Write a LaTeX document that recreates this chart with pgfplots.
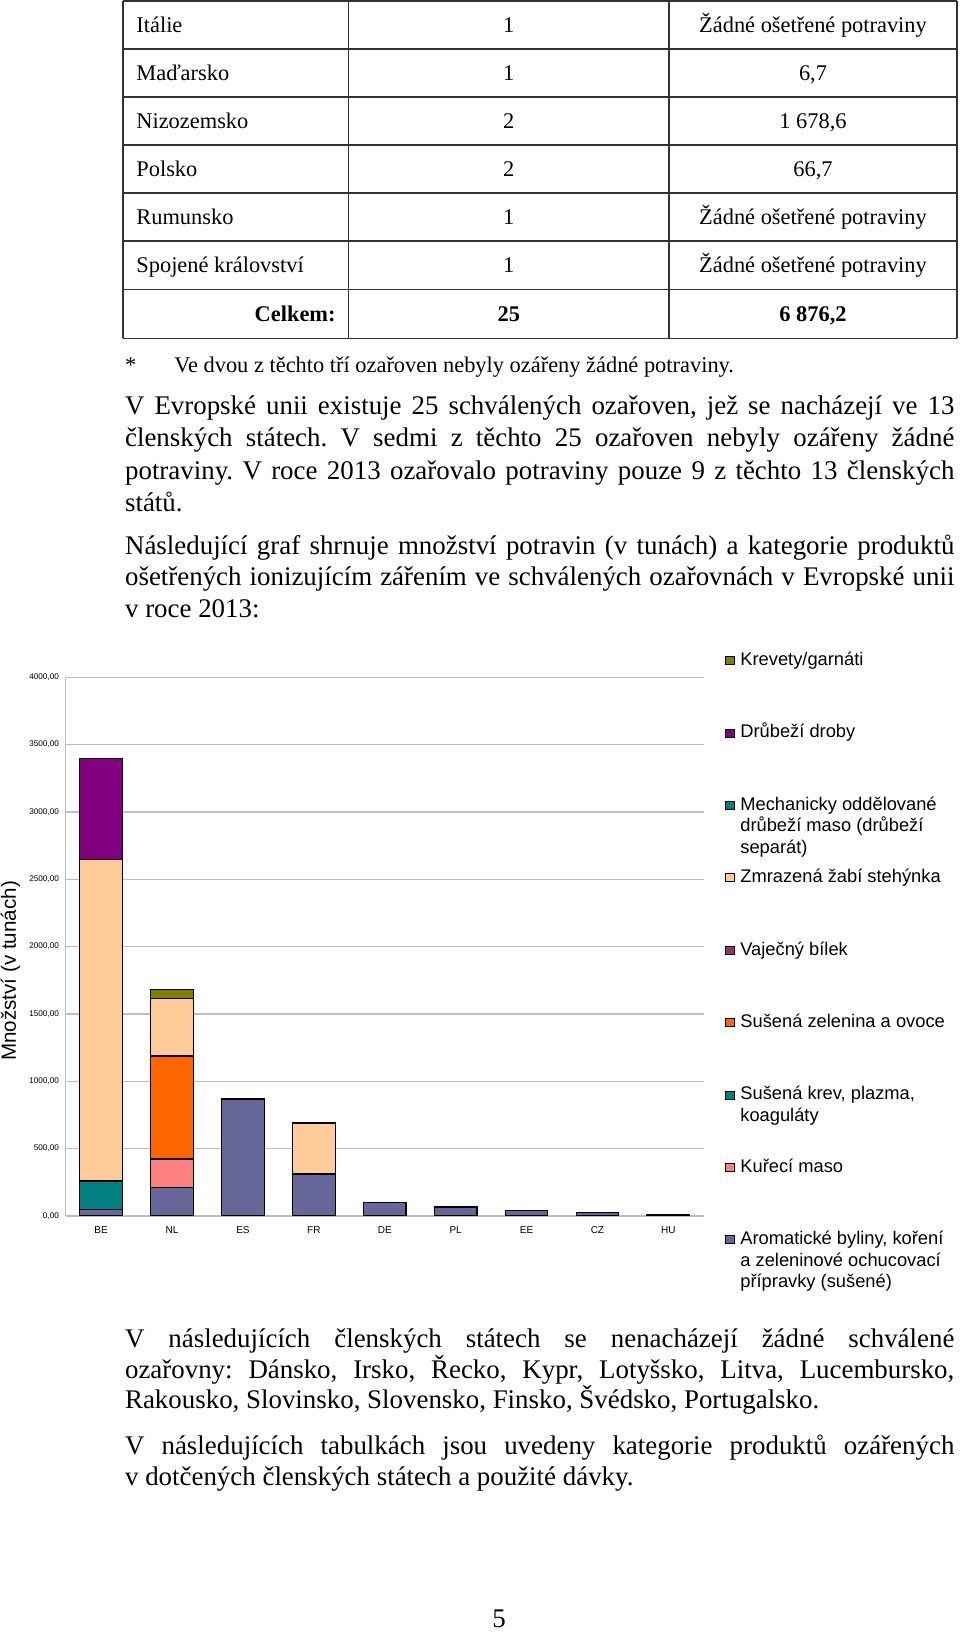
\documentclass[border=0pt]{standalone}
\usepackage{fontspec}
\setmainfont{Liberation Serif}
\newfontfamily\arial{Liberation Sans}
\usepackage{pgfplots}
\pgfplotsset{compat=1.18}
\frenchspacing
\newlength\px \setlength\px{0.5pt}
\definecolor{cAr}{HTML}{666699}
\definecolor{cKu}{HTML}{FF8080}
\definecolor{cKrev}{HTML}{008080}
\definecolor{cZe}{HTML}{FF6600}
\definecolor{cVa}{HTML}{993366}
\definecolor{cZm}{HTML}{FFCC99}
\definecolor{cMe}{HTML}{008080}
\definecolor{cDr}{HTML}{800080}
\definecolor{cKr}{HTML}{808000}
\newcommand\bodyfont{\fontsize{13.45pt}{16pt}\selectfont\frenchspacing}
\newcommand\tabfont{\fontsize{11.2pt}{13pt}\selectfont}
\newcommand\legtext[1]{\smash{\raisebox{-5\px}{\parbox[t]{215\px}{\raggedright\arial\fontsize{9.15pt}{10.7pt}\selectfont #1}}}}
\newcommand\jl[2]{\node[anchor=base west, inner sep=0pt, font=\bodyfont] at (124.7,-#1) {\makebox[829.3\px][s]{#2}};}
\newcommand\lline[2]{\node[anchor=base west, inner sep=0pt, font=\bodyfont] at (124.7,-#1) {#2};}
\newcommand\trow[4]{%
  \node[anchor=base west, inner sep=0pt, font=\tabfont] at (136,-#1) {#2};
  \node[anchor=base, inner sep=0pt, font=\tabfont] at (508.75,-#1) {#3};
  \node[anchor=base, inner sep=0pt, font=\tabfont] at (813,-#1) {#4};}
\begin{document}
\begin{tikzpicture}[x=0.5pt,y=0.5pt]
\useasboundingbox (0,-1633) rectangle (960,0);
% ---- table
\begin{scope}[line width=0.6pt, draw=black!80]
\foreach \yy in {1,49,97,145,193,241,289.3,338.3} \draw (123,-\yy) -- (957,-\yy);
\foreach \xx in {123,348.5,669,957} \draw (\xx,-1) -- (\xx,-338.3);
\end{scope}
\trow{32.3}{Itálie}{1}{Žádné ošetřené potraviny}
\trow{80.3}{Maďarsko}{1}{6,7}
\trow{128.3}{Nizozemsko}{2}{1 678,6}
\trow{176.3}{Polsko}{2}{66,7}
\trow{224.3}{Rumunsko}{1}{Žádné ošetřené potraviny}
\trow{272.5}{Spojené království}{1}{Žádné ošetřené potraviny}
\node[anchor=base east, inner sep=0pt, font=\tabfont\bfseries] at (336,-321.1) {Celkem:};
\node[anchor=base, inner sep=0pt, font=\tabfont\bfseries] at (508.75,-321.1) {25};
\node[anchor=base, inner sep=0pt, font=\tabfont\bfseries] at (813,-321.1) {6 876,2};
% ---- footnote
\node[anchor=base west, inner sep=0pt, font=\tabfont] at (124.7,-372.5) {*};
\node[anchor=base west, inner sep=0pt, font=\tabfont] at (174,-372.5) {Ve dvou z těchto tří ozařoven nebyly ozářeny žádné potraviny.};
% ---- paragraphs
\jl{414}{V Evropské unii existuje 25 schválených ozařoven, jež se nacházejí ve 13}
\jl{446.5}{členských státech. V sedmi z těchto 25 ozařoven nebyly ozářeny žádné}
\jl{479}{potraviny. V roce 2013 ozařovalo potraviny pouze 9 z těchto 13 členských}
\lline{511.5}{států.}
\jl{554}{Následující graf shrnuje množství potravin (v tunách) a kategorie produktů}
\jl{585.8}{ošetřených ionizujícím zářením ve schválených ozařovnách v Evropské unii}
\lline{617.6}{v roce 2013:}
\jl{1347}{V následujících členských státech se nenacházejí žádné schválené}
\jl{1378}{ozařovny: Dánsko, Irsko, Řecko, Kypr, Lotyšsko, Litva, Lucembursko,}
\lline{1408.5}{Rakousko, Slovinsko, Slovensko, Finsko, Švédsko, Portugalsko.}
\jl{1454.5}{V následujících tabulkách jsou uvedeny kategorie produktů ozářených}
\lline{1485.5}{v dotčených členských státech a použité dávky.}
\node[anchor=base, inner sep=0pt, font=\bodyfont] at (499,-1627) {5};
% ---- chart
\coordinate (plotSW) at (65.7,-1215.9);
\begin{axis}[
  at={(plotSW)}, anchor=south west,
  scale only axis, width=638.1\px, height=538.6\px,
  xmin=-0.5, xmax=8.5, ymin=0, ymax=4000,
  enlargelimits=false,
  ybar stacked, bar width=0.6,
  axis x line*=bottom, axis y line*=left,
  axis line style={draw=black!25, line width=0.65pt, -},
  ymajorgrids, grid style={draw=black!25, line width=0.65pt},
  major tick length=0pt,
  xtick={0,...,8}, xticklabels={BE,NL,ES,FR,DE,PL,EE,CZ,HU},
  ytick={0,500,...,4000},
  yticklabels={{0,00},{500,00},{1000,00},{1500,00},{2000,00},{2500,00},{3000,00},{3500,00},{4000,00}},
  xticklabel style={font=\arial\fontsize{5pt}{6pt}\selectfont, inner sep=0pt, anchor=north, yshift=-10.5\px},
  yticklabel style={font=\arial\fontsize{4.1pt}{5pt}\selectfont, inner sep=0pt, anchor=east, xshift=-6.4\px},
  ylabel={Množství (v tunách)},
  ylabel style={at={(axis description cs:-0.0867,0.4549)}, anchor=center, font=\arial\fontsize{10.3pt}{12pt}\selectfont, inner sep=0pt},
  legend image code/.code={\draw[#1, line width=0.3pt, draw=black] (0pt,-4\px) rectangle (9\px,4\px);},
  legend style={at={(axis description cs:1.0332,1.0401)}, anchor=north west, draw=none, fill=none, inner sep=0pt,
     nodes={inner sep=0pt, text depth=0pt}, row sep=63.8\px, column sep=5.4\px},
  legend cell align=left,
  reverse legend,
]
\addplot[fill=cAr, draw=black, line width=0.6pt] coordinates {(0,50) (1,210) (2,868) (3,311) (4,101) (5,66.7) (6,40) (7,25) (8,6.7)};
\addlegendentry{\legtext{Aromatické byliny, koření\\a zeleninové ochucovací\\přípravky (sušené)}}
\addplot[fill=cKu, draw=black, line width=0.6pt] coordinates {(0,0) (1,213) (2,0) (3,0) (4,0) (5,0) (6,0) (7,0) (8,0)};
\addlegendentry{\legtext{Kuřecí maso}}
\addplot[fill=cKrev, draw=black, line width=0.6pt] coordinates {(0,209) (1,0) (2,0) (3,0) (4,0) (5,0) (6,0) (7,0) (8,0)};
\addlegendentry{\legtext{Sušená krev, plazma,\\koaguláty}}
\addplot[fill=cZe, draw=black, line width=0.6pt] coordinates {(0,0) (1,765) (2,0) (3,0) (4,0) (5,0) (6,0) (7,0) (8,0)};
\addlegendentry{\legtext{Sušená zelenina a ovoce}}
\addplot[fill=cVa, draw=black, line width=0.6pt] coordinates {(0,0) (1,0) (2,0) (3,0) (4,0) (5,0) (6,0) (7,0) (8,0)};
\addlegendentry{\legtext{Vaječný bílek}}
\addplot[fill=cZm, draw=black, line width=0.6pt] coordinates {(0,2388) (1,428) (2,0) (3,373) (4,0) (5,0) (6,0) (7,0) (8,0)};
\addlegendentry{\legtext{Zmrazená žabí stehýnka}}
\addplot[fill=cMe, draw=black, line width=0.6pt] coordinates {(0,0) (1,0) (2,0) (3,0) (4,0) (5,0) (6,0) (7,0) (8,0)};
\addlegendentry{\legtext{Mechanicky oddělované\\drůbeží maso (drůbeží\\separát)}}
\addplot[fill=cDr, draw=black, line width=0.6pt] coordinates {(0,753) (1,0) (2,0) (3,6) (4,0) (5,0) (6,0) (7,0) (8,0)};
\addlegendentry{\legtext{Drůbeží droby}}
\addplot[fill=cKr, draw=black, line width=0.6pt] coordinates {(0,0) (1,62.6) (2,0) (3,0) (4,0) (5,0) (6,0) (7,0) (8,0)};
\addlegendentry{\legtext{Krevety/garnáti}}
\end{axis}
\end{tikzpicture}
\end{document}
